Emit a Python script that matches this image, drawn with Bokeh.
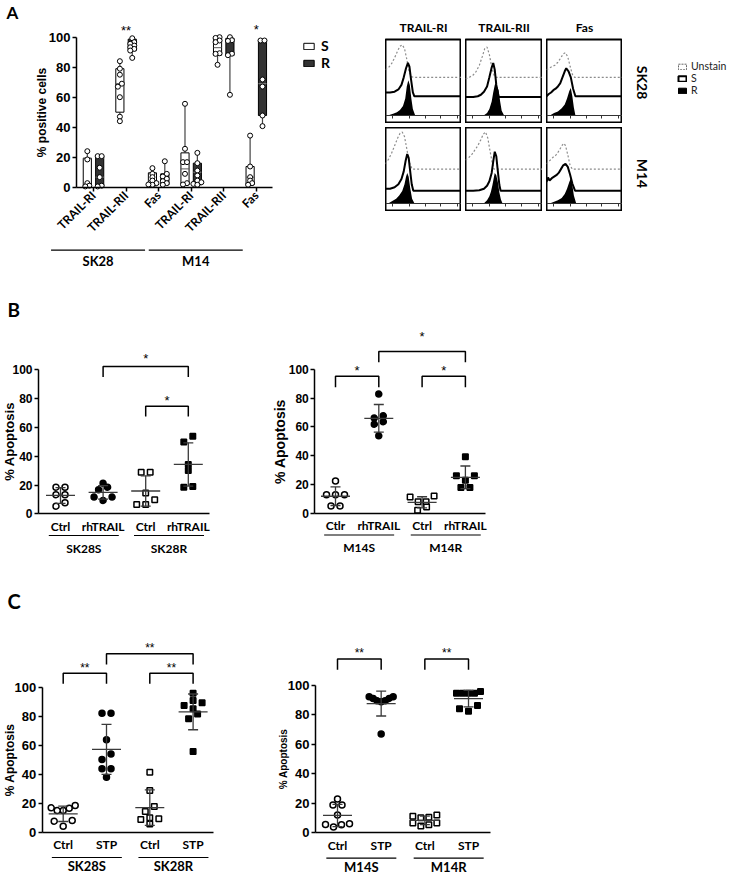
import numpy as np
from bokeh.plotting import figure
from bokeh.models import Range1d, FixedTicker, Legend, LegendItem, Spacer
from bokeh.layouts import row, column
from bokeh.embed import file_html
from bokeh.resources import INLINE
from bokeh.core.properties import value

ARIAL = "Liberation Sans"
CAL = "Lato"

# ------------------------------------------------------------------ data
Y_TICKS = [0, 20, 40, 60, 80, 100]

# Panel A : box plots (% positive cells)
A_receptors = ["TRAIL-RI", "TRAIL-RII", "Fas", "TRAIL-RI", "TRAIL-RII", "Fas"]
A_cell_lines = ["SK28", "M14"]
A_S_low = [0.5, 44.0, 0.9, 1.6, 81.6, 1.6]
A_S_q1 = [0.5, 50.0, 0.9, 1.6, 88.0, 1.6]
A_S_med = [19.3, 69.0, 4.4, 12.2, 93.0, 6.7]
A_S_q3 = [19.3, 79.0, 9.6, 22.9, 99.3, 13.8]
A_S_high = [24.0, 84.0, 12.7, 55.6, 100.0, 34.4]
A_R_low = [0.5, 86.2, 1.6, 1.6, 61.6, 40.7]
A_R_q1 = [0.5, 91.0, 1.6, 1.6, 87.8, 47.8]
A_R_med = [6.7, 96.0, 5.6, 10.0, 97.0, 69.0]
A_R_q3 = [20.7, 98.7, 8.9, 16.0, 99.3, 97.8]
A_R_high = [21.0, 99.3, 17.3, 22.9, 100.0, 97.8]
A_S_points = [[24, 18.5, 2.7, 1, 0.5],
              [84, 79, 75, 69, 67, 60, 47, 44],
              [12.7, 8.9, 6.7, 4.4, 2.7, 1.6, 1.8],
              [55.6, 25.6, 16.7, 16.7, 8.9, 2.7, 1.8],
              [100, 99.5, 97.8, 96.7, 89.3, 88.9, 81.6],
              [34.4, 13.8, 6.7, 4.4, 2.7, 1.6]]
A_R_points = [[20.7, 20.7, 13, 6.7, 1, 0.5],
              [99.3, 96.7, 95.6, 94.4, 93.3, 92.2, 91.1, 86.2],
              [17.3, 8.9, 7.1, 5.6, 4.0, 2.7, 1.6],
              [22.9, 16, 11.1, 7.8, 4.4, 3.3, 2.2, 1.6],
              [100, 98, 97.5, 89, 88, 61.6],
              [97.8, 97.8, 71.8, 67.1, 47.8, 40.7]]
A_sig_cat = [2, 6]
A_sig_y = [106.7, 107.0]
A_sig_text = ["**", "*"]

# Panel A : flow cytometry histograms (channel 0-100, relative counts, offset overlays)
H_cols = ["TRAIL-RI", "TRAIL-RII", "Fas"]
H_rows = ["SK28", "M14"]
H_TICKS = [9, 31, 52, 73, 95]
SK28_RI_U_x = [0, 4, 8, 12, 16, 19, 22, 25, 28, 31, 34, 37, 100]
SK28_RI_U_y = [60, 63, 68, 76, 85, 91, 93, 88, 74, 58, 51, 50, 50]
SK28_RI_S_x = [0, 6, 12, 17, 21, 24, 27, 29.5, 31.5, 33.5, 36, 38, 100]
SK28_RI_S_y = [30, 30, 31, 34, 40, 50, 62, 69, 64, 48, 30, 25, 25]
SK28_RI_R_x = [4, 10, 15, 19, 23, 26, 28, 30, 32, 34, 36, 39]
SK28_RI_R_y = [0, 2, 4, 7, 12, 22, 38, 46, 40, 22, 8, 0]
SK28_RII_U_x = [0, 5, 10, 14, 18, 22, 25, 28, 31, 34, 37, 40, 100]
SK28_RII_U_y = [48, 50, 53, 58, 66, 78, 88, 90, 80, 64, 53, 50, 50]
SK28_RII_S_x = [0, 10, 16, 20, 24, 28, 31, 34, 36, 38, 40, 43, 100]
SK28_RII_S_y = [24, 24, 25, 27, 31, 38, 50, 63, 69, 60, 40, 24, 24]
SK28_RII_R_x = [24, 28, 31, 34, 36, 38, 39, 41, 43, 45, 47, 50]
SK28_RII_R_y = [0, 3, 8, 18, 30, 40, 42.6, 38, 33, 18, 6, 0]
SK28_Fas_U_x = [0, 3, 7, 11, 15, 19, 22, 25, 28, 31, 34, 37, 100]
SK28_Fas_U_y = [60, 62, 64, 66, 70, 76, 81, 82.6, 77, 65, 54, 50, 50]
SK28_Fas_S_x = [0, 3, 6, 9, 12, 15, 18, 21, 24, 26, 29, 32, 35, 38, 100]
SK28_Fas_S_y = [25, 28, 30, 33, 35, 38, 42, 50, 58, 62, 58, 50, 35, 25, 25]
SK28_Fas_R_x = [5, 10, 15, 20, 24, 27, 30, 32, 34, 36, 38]
SK28_Fas_R_y = [0, 3, 5, 9, 14, 22, 32, 36, 25, 10, 0]
M14_RI_U_x = [0, 4, 8, 12, 16, 19, 22, 25, 28, 31, 35, 100]
M14_RI_U_y = [52, 58, 66, 76, 86, 92, 94, 88, 72, 55, 45, 45]
M14_RI_S_x = [0, 6, 12, 17, 21, 24, 26.5, 28.6, 30.5, 32.5, 34.5, 36.6, 100]
M14_RI_S_y = [19, 19, 21, 25, 32, 42, 56, 65, 60, 42, 25, 16.5, 16.5]
M14_RI_R_x = [4, 9, 14, 18, 22, 25, 27, 28.6, 30.5, 32.5, 35, 38]
M14_RI_R_y = [0, 3, 6, 10, 16, 25, 35, 40, 35, 20, 6, 0]
M14_RII_U_x = [0, 4, 8, 12, 16, 20, 23, 26, 29, 32, 35, 37, 100]
M14_RII_U_y = [57, 60, 64, 70, 76, 84, 91, 94, 86, 68, 52, 45, 45]
M14_RII_S_x = [0, 10, 18, 24, 28, 31, 34, 36, 38, 40, 42, 44, 45.6, 100]
M14_RII_S_y = [16.5, 16.5, 17, 19, 23, 29, 40, 55, 68, 62, 42, 24, 16.5, 16.5]
M14_RII_R_x = [24, 28, 31, 33, 35, 37, 38, 40, 42, 44, 46, 48]
M14_RII_R_y = [0, 4, 9, 15, 24, 35, 40, 37, 28, 14, 5, 0]
M14_Fas_U_x = [0, 3, 6, 9, 12, 15, 18, 21, 23, 25, 28, 31, 34, 100]
M14_Fas_U_y = [52, 55, 58, 61, 63, 67, 72, 77, 79, 76, 64, 50, 45, 45]
M14_Fas_S_x = [0, 2, 4, 7, 10, 13, 16, 19, 22, 25, 28, 31, 34, 37.5, 100]
M14_Fas_S_y = [28, 34, 30, 33, 35, 37, 40, 45, 50, 52, 48, 38, 26, 16.5, 16.5]
M14_Fas_R_x = [5, 10, 15, 20, 24, 27, 30, 32, 34, 36, 39]
M14_Fas_R_y = [0, 2, 4, 7, 12, 19, 28, 33, 24, 10, 0]

# Panel B : % apoptosis, rhTRAIL
B_left_cats = ["Ctrl", "rhTRAIL", "Ctrl", "rhTRAIL"]
B_left_groups = ["SK28S", "SK28R"]
B_SK28S_Ctrl = [18.5, 18.5, 13.3, 13.3, 7.6, 5.3]
B_SK28S_rhTRAIL = [18.5, 21.3, 16.7, 11.6, 9.3, 11.6]
B_SK28R_Ctrl = [28.9, 28.9, 14.4, 9.7, 6.5, 6.5]
B_SK28R_rhTRAIL = [53.9, 49.8, 34.3, 30.1, 18.5, 19.0]
B_right_cats = ["Ctlr", "rhTRAIL", "Ctrl", "rhTRAIL"]
B_right_groups = ["M14S", "M14R"]
B_M14S_Ctlr = [22.5, 12.8, 12.8, 12.8, 5.1, 5.1]
B_M14S_rhTRAIL = [82.8, 67.7, 66.1, 63.6, 61.9, 53.8]
B_M14R_Ctrl = [11.3, 12.0, 8.0, 8.0, 4.4, 2.1]
B_M14R_rhTRAIL = [39.2, 23.0, 26.0, 26.0, 17.9, 17.9]
# significance brackets: (from, to, top, leg bottom, star centre, text)
B_left_sig = [(2, 4, 102.3, 95.0, 110.0, "*"), (3, 4, 74.7, 67.6, 81.0, "*")]
B_right_sig = [(1, 2, 95.1, 87.5, 101.4, "*"), (3, 4, 95.1, 87.5, 101.4, "*"),
               (2, 4, 112.3, 104.9, 124.7, "*")]

# Panel C : % apoptosis, STP
C_left_cats = ["Ctrl", "STP", "Ctrl", "STP"]
C_left_groups = ["SK28S", "SK28R"]
C_SK28S_Ctrl = [16.8, 18.4, 14.9, 14.9, 16.5, 8.0, 7.6, 4.1]
C_SK28S_STP = [82, 82, 63.7, 54, 50.1, 43.7, 43.7, 37.9]
C_SK28R_Ctrl = [41.4, 28.7, 17.7, 14.3, 9.2, 9.9, 8.7, 5.7]
C_SK28R_STP = [95.9, 89.2, 90.8, 87.4, 85.1, 81.6, 78.2, 55.6]
C_right_cats = ["Ctrl", "STP", "Ctrl", "STP"]
C_right_groups = ["M14S", "M14R"]
C_M14S_Ctrl = [23, 18.9, 18.9, 12, 6.2, 3.9, 5.5, 5.7]
C_M14S_STP = [92.3, 91.2, 89.6, 88.9, 89.6, 91.2, 92.3, 67]
C_M14R_Ctrl = [10.3, 11.3, 12, 10.5, 6.7, 5.5, 6.7, 4.6]
C_M14R_STP = [94.8, 94.8, 94.8, 94.8, 95.9, 86.4, 82.6, 84.2]
C_left_sig = [(1, 2, 109.7, 102.3, 115.0, "**"), (3, 4, 109.7, 102.3, 115.0, "**"),
              (2, 4, 123.0, 115.7, 128.8, "**")]
C_right_sig = [(1, 2, 118.0, 110.7, 124.0, "**"), (3, 4, 118.0, 110.7, 124.0, "**")]


# ------------------------------------------------------------------ helpers
class Frame:
    """maps page pixels <-> data for one panel (frame = whole figure)"""
    def __init__(self, left, top, w, h, x1px, xs, y0px, ys):
        self.left, self.top, self.w, self.h = left, top, w, h
        self.x1px, self.xs, self.y0px, self.ys = x1px, xs, y0px, ys

    def x(self, px):
        return 1 + (px - self.x1px) / self.xs

    def y(self, py):
        return (self.y0px - py) / self.ys

    def fig(self):
        p = figure(width=self.w, height=self.h, title=None,
                   x_range=Range1d(self.x(self.left), self.x(self.left + self.w)),
                   y_range=Range1d(self.y(self.top + self.h), self.y(self.top)),
                   output_backend="svg", toolbar_location=None)
        p.min_border_left = p.min_border_right = 0
        p.min_border_top = p.min_border_bottom = 0
        p.outline_line_color = None
        p.xgrid.visible = False
        p.ygrid.visible = False
        p.background_fill_color = "white"
        p.border_fill_color = "white"
        return p


def swarm_px(vals, ys, D, S, W):
    vals = np.asarray(vals, float)
    order = np.argsort(vals, kind="stable")
    offs = np.zeros(len(vals))
    bins, cur = [], [order[0]]
    for i in order[1:]:
        if (vals[i] - vals[cur[0]]) * ys <= D:
            cur.append(i)
        else:
            bins.append(cur)
            cur = [i]
    bins.append(cur)
    for b in bins:
        n = len(b)
        step = S if n < 2 else min(S, W / (n - 1))
        slots = sorted([(j - (n - 1) / 2) for j in range(n)], key=lambda s: (abs(s), s))
        for s, i in zip(slots, b):
            offs[i] = s * step
    return offs


def setup_axes(p, fr, yaxis_px, xend_px, cats, tick_px, ylab, ylab_px, ylab_standoff,
               cat_px, cat_standoff, xtick_out=0, orient=None):
    ya = p.yaxis[0]
    ya.fixed_location = fr.x(yaxis_px)
    ya.bounds = (0, 100)
    ya.ticker = FixedTicker(ticks=Y_TICKS)
    ya.minor_tick_line_color = None
    ya.major_tick_in = 0
    ya.major_tick_out = 4
    ya.axis_line_width = 1.5
    ya.major_tick_line_width = 1.5
    ya.major_label_text_font = ARIAL
    ya.major_label_text_font_style = "bold"
    ya.major_label_text_font_size = f"{tick_px}px"
    ya.major_label_text_color = "black"
    ya.major_label_standoff = 2
    ya.axis_label = ylab
    ya.axis_label_text_font = ARIAL
    ya.axis_label_text_font_style = "bold"
    ya.axis_label_text_font_size = f"{ylab_px}px"
    ya.axis_label_text_color = "black"
    ya.axis_label_standoff = ylab_standoff
    xa = p.xaxis[0]
    xa.fixed_location = 0
    xa.bounds = (fr.x(yaxis_px), fr.x(xend_px))
    xa.ticker = FixedTicker(ticks=list(range(1, len(cats) + 1)))
    xa.major_label_overrides = {i + 1: c for i, c in enumerate(cats)}
    xa.minor_tick_line_color = None
    xa.major_tick_in = 0
    xa.major_tick_out = xtick_out
    xa.major_tick_line_width = 1.5
    xa.axis_line_width = 1.5
    xa.major_label_text_font = CAL
    xa.major_label_text_font_style = "bold"
    xa.major_label_text_font_size = f"{cat_px}px"
    xa.major_label_text_color = "black"
    xa.major_label_standoff = cat_standoff
    if orient is not None:
        xa.major_label_orientation = orient


def add_text(p, x, y, txt, font, px, bold=True, align="center", angle=0.0):
    p.text(x=[x], y=[y], text=[txt], text_font=value(font), text_font_size=f"{px}px",
           text_font_style="bold" if bold else "normal", text_align=align,
           text_baseline="middle", text_color="black", angle=angle)


def add_stars(p, fr, x, star_c, lab, star_px):
    # asterisks sit high in the em box: lower the text so the glyphs centre on star_c
    add_text(p, x, star_c - 0.25 * star_px / fr.ys, lab, ARIAL, star_px, bold=False)


def add_brackets(p, fr, specs, star_px):
    xs, ys = [], []
    for a, b, top, leg, star_c, lab in specs:
        xs.append([a, a, b, b])
        ys.append([leg, top, top, leg])
    p.multi_line(xs=xs, ys=ys, line_color="black", line_width=1.5)
    for a, b, top, leg, star_c, lab in specs:
        add_stars(p, fr, (a + b) / 2, star_c, lab, star_px)


def dot_panel(fr, series, styles, cats, groups, sig, yaxis_px, xend_px, tick_px,
              ylab_px, ylab_standoff, star_px, cat_px, grp_px, grp_line_off, grp_lab_off,
              letter=None):
    p = fr.fig()
    setup_axes(p, fr, yaxis_px, xend_px, cats, tick_px, "% Apoptosis", ylab_px,
               ylab_standoff, cat_px, 5)
    for i, (vals, (marker, fill)) in enumerate(zip(series, styles)):
        xc = i + 1
        offs = swarm_px(vals, fr.ys, 6.0, 9.0, 24.0) / fr.xs
        p.scatter(x=xc + offs, y=vals, marker=marker, size=6 if marker == "circle" else 5.5,
                  fill_color=fill, line_color="black", line_width=1.5)
        m = float(np.mean(vals))
        sd = float(np.std(vals, ddof=1))
        hw = 14.5 / fr.xs
        cw = 5.0 / fr.xs
        p.segment(x0=[xc - hw, xc, xc - cw, xc - cw], x1=[xc + hw, xc, xc + cw, xc + cw],
                  y0=[m, m - sd, m - sd, m + sd], y1=[m, m + sd, m - sd, m + sd],
                  line_color="#3a3a3a", line_width=1.3)
    add_brackets(p, fr, sig, star_px)
    # group lines and labels
    for g, name in enumerate(groups):
        a, b = 2 * g + 1, 2 * g + 2
        c = (a + b) / 2 + 2.0 / fr.xs
        hw = 35.0 / fr.xs
        yl = fr.y(fr.y0px + grp_line_off)
        p.segment(x0=[c - hw], x1=[c + hw], y0=[yl], y1=[yl], line_color="black", line_width=1.2)
        add_text(p, c, fr.y(fr.y0px + grp_lab_off), name, CAL, grp_px)
    if letter is not None:
        lt, lx, ly, lpx = letter
        add_text(p, fr.x(lx), fr.y(ly), lt, CAL, lpx, align="left")
    return p


# ------------------------------------------------------------------ panel A box plot
frA = Frame(0, 0, 370, 285, 93, 32.56, 186.7, 1.5)
pA = frA.fig()
setup_axes(pA, frA, 76, 272, A_receptors, 13, "% positive cells", 12, -3, 12, 2,
           xtick_out=4, orient=np.pi / 4)
cat = np.arange(1, 7)
bw = 0.25
box_rends = []
for sign, lo, q1, med, q3, hi, pts, fill, medc in [
        (-1, A_S_low, A_S_q1, A_S_med, A_S_q3, A_S_high, A_S_points, "white", "#555555"),
        (1, A_R_low, A_R_q1, A_R_med, A_R_q3, A_R_high, A_R_points, "#333333", "#888888")]:
    bx = cat + sign * 0.19
    pA.segment(x0=bx, x1=bx, y0=q3, y1=hi, line_color="#444444", line_width=1.2)
    pA.segment(x0=bx, x1=bx, y0=lo, y1=q1, line_color="#444444", line_width=1.2)
    r = pA.vbar(x=bx, width=bw, bottom=q1, top=q3, fill_color=fill, line_color="black",
                line_width=1)
    box_rends.append(r)
    pA.segment(x0=bx - bw / 2, x1=bx + bw / 2, y0=med, y1=med, line_color=medc, line_width=1)
    for i, vals in enumerate(pts):
        offs = swarm_px(vals, frA.ys, 3.0, 4.0, 8.0) / frA.xs
        pA.scatter(x=bx[i] + offs, y=vals, marker="circle", size=5, fill_color="white",
                   line_color="black", line_width=1)
for c_, y_, t_ in zip(A_sig_cat, A_sig_y, A_sig_text):
    add_stars(pA, frA, c_, y_, t_, 13)
for g, name in enumerate(A_cell_lines):
    mid = 3 * g + 2
    c = mid - 28.0 / frA.xs
    hw = 47.0 / frA.xs
    yl = frA.y(frA.y0px + 63)
    pA.segment(x0=[c - hw], x1=[c + hw], y0=[yl], y1=[yl], line_color="black", line_width=1.2)
    add_text(pA, c, frA.y(frA.y0px + 74), name, CAL, 13)
add_text(pA, frA.x(6), frA.y(12), "A", CAL, 17, align="left")
legA = Legend(items=[LegendItem(label="S", renderers=[box_rends[0]]),
                     LegendItem(label="R", renderers=[box_rends[1]])],
              location=(302, 214), glyph_width=13, glyph_height=8, label_height=17,
              spacing=0, padding=0, margin=0, label_standoff=6,
              border_line_color=None, background_fill_alpha=0,
              label_text_font=CAL, label_text_font_style="bold", label_text_font_size="14px",
              label_text_color="black")
pA.add_layout(legA)

# ------------------------------------------------------------------ panel A histograms
H_data = [[(SK28_RI_U_x, SK28_RI_U_y, SK28_RI_S_x, SK28_RI_S_y, SK28_RI_R_x, SK28_RI_R_y),
           (SK28_RII_U_x, SK28_RII_U_y, SK28_RII_S_x, SK28_RII_S_y, SK28_RII_R_x, SK28_RII_R_y),
           (SK28_Fas_U_x, SK28_Fas_U_y, SK28_Fas_S_x, SK28_Fas_S_y, SK28_Fas_R_x, SK28_Fas_R_y)],
          [(M14_RI_U_x, M14_RI_U_y, M14_RI_S_x, M14_RI_S_y, M14_RI_R_x, M14_RI_R_y),
           (M14_RII_U_x, M14_RII_U_y, M14_RII_S_x, M14_RII_S_y, M14_RII_R_x, M14_RII_R_y),
           (M14_Fas_U_x, M14_Fas_U_y, M14_Fas_S_x, M14_Fas_S_y, M14_Fas_R_x, M14_Fas_R_y)]]
col_w = [76, 77, 76]
TOP_PAD = 39


def hist_fig(w, title, d):
    h = 84 + (TOP_PAD if title else 0)
    p = figure(width=w, height=h, title=title, x_range=Range1d(0, 100),
               y_range=Range1d(-11, 100), output_backend="svg", toolbar_location=None,
               y_axis_type=None)
    p.min_border_left = p.min_border_right = p.min_border_bottom = 0
    p.min_border_top = TOP_PAD if title else 0
    p.xgrid.visible = False
    p.ygrid.visible = False
    p.outline_line_color = "black"
    p.outline_line_width = 2
    if title:
        p.title.align = "center"
        p.title.text_font = CAL
        p.title.text_font_style = "bold"
        p.title.text_font_size = "12px"
        p.title.text_color = "black"
        p.title.standoff = 10
    xa = p.xaxis[0]
    xa.fixed_location = 0
    xa.ticker = FixedTicker(ticks=H_TICKS)
    xa.major_label_overrides = {t: "" for t in H_TICKS}
    xa.minor_tick_line_color = None
    xa.major_tick_in = 0
    xa.major_tick_out = 3
    xa.axis_line_color = "#333333"
    xa.major_tick_line_color = "#333333"
    ux, uy, sx, sy, rx, ry = d
    p.line(ux, uy, line_color="#8c8c8c", line_dash="2 2", line_width=1.2)
    p.varea(x=rx, y1=0, y2=ry, fill_color="black")
    p.line(sx, sy, line_color="black", line_width=2)
    return p


hrows = []
for ri in range(2):
    items = []
    for ci in range(3):
        f = hist_fig(col_w[ci], H_cols[ci] if ri == 0 else None, H_data[ri][ci])
        if ci > 0:
            items.append(Spacer(width=4, height=f.height))
        items.append(f)
    hrows.append(row(*items))
hist = column(hrows[0], Spacer(width=237, height=4), hrows[1])

side = figure(width=111, height=211, x_range=Range1d(0, 111), y_range=Range1d(0, 211),
              output_backend="svg", toolbar_location=None, x_axis_type=None,
              y_axis_type=None, title=None)
side.min_border_left = side.min_border_right = side.min_border_top = side.min_border_bottom = 0
side.outline_line_color = None
side.xgrid.visible = False
side.ygrid.visible = False
add_text(side, 20, 129, H_rows[0], CAL, 14, angle=-np.pi / 2)
add_text(side, 20, 38, H_rows[1], CAL, 14, angle=-np.pi / 2)
# legend proxies (single off-canvas item each, only their legend swatches are seen)
OFF = [-500]
ru = side.rect(x=OFF, y=OFF, width=1, height=1, fill_color=None, line_color="#666666",
               line_dash="2 1", line_width=1)
rs = side.rect(x=OFF, y=OFF, width=1, height=1, fill_color="white", line_color="black",
               line_width=2)
rr = side.rect(x=OFF, y=OFF, width=1, height=1, fill_color="black", line_color="black")
legH = Legend(items=[LegendItem(label="Unstain", renderers=[ru]),
                     LegendItem(label="S", renderers=[rs]),
                     LegendItem(label="R", renderers=[rr])],
              location=(55, 115), glyph_width=10, glyph_height=7, label_height=9,
              spacing=-2, padding=0, margin=0, label_standoff=4,
              border_line_color=None, background_fill_alpha=0,
              label_text_font=CAL, label_text_font_size="10.5px", label_text_color="#222222")
side.add_layout(legH)

rowA = row(pA, Spacer(width=15, height=285), hist, side)

# ------------------------------------------------------------------ panels B and C
styles = [("circle", "white"), ("circle", "black"), ("square", "white"), ("square", "black")]

frBL = Frame(0, 285, 255, 275, 60, 42.6, 513.3, 1.44)
pBL = dot_panel(frBL, [B_SK28S_Ctrl, B_SK28S_rhTRAIL, B_SK28R_Ctrl, B_SK28R_rhTRAIL], styles,
                B_left_cats, B_left_groups, B_left_sig, 38, 209, 12, 13, -8, 13, 12, 12,
                21.7, 34.5, letter=("B", 7, 308.5, 19))
frBR = Frame(255, 285, 478, 275, 335, 43.3, 512.8, 1.44)
pBR = dot_panel(frBR, [B_M14S_Ctlr, B_M14S_rhTRAIL, B_M14R_Ctrl, B_M14R_rhTRAIL], styles,
                B_right_cats, B_right_groups, B_right_sig, 314.3, 485, 12, 14, -3, 13, 12, 12,
                21.7, 34.5)
frCL = Frame(0, 560, 255, 315, 62.7, 43.3, 831.7, 1.45)
pCL = dot_panel(frCL, [C_SK28S_Ctrl, C_SK28S_STP, C_SK28R_Ctrl, C_SK28R_STP], styles,
                C_left_cats, C_left_groups, C_left_sig, 41.7, 213, 13, 12, -5, 12, 12, 13,
                25.3, 34.0, letter=("C", 7, 600.5, 20))
frCR = Frame(255, 560, 478, 315, 337, 43.67, 832.3, 1.473)
pCR = dot_panel(frCR, [C_M14S_Ctrl, C_M14S_STP, C_M14R_Ctrl, C_M14R_STP], styles,
                C_right_cats, C_right_groups, C_right_sig, 315, 490, 13, 10, -4, 12, 12, 13,
                25.3, 34.0)

layout = column(rowA, row(pBL, pBR), row(pCL, pCR))
open("out.html", "w").write(file_html(layout, INLINE, "chart"))
